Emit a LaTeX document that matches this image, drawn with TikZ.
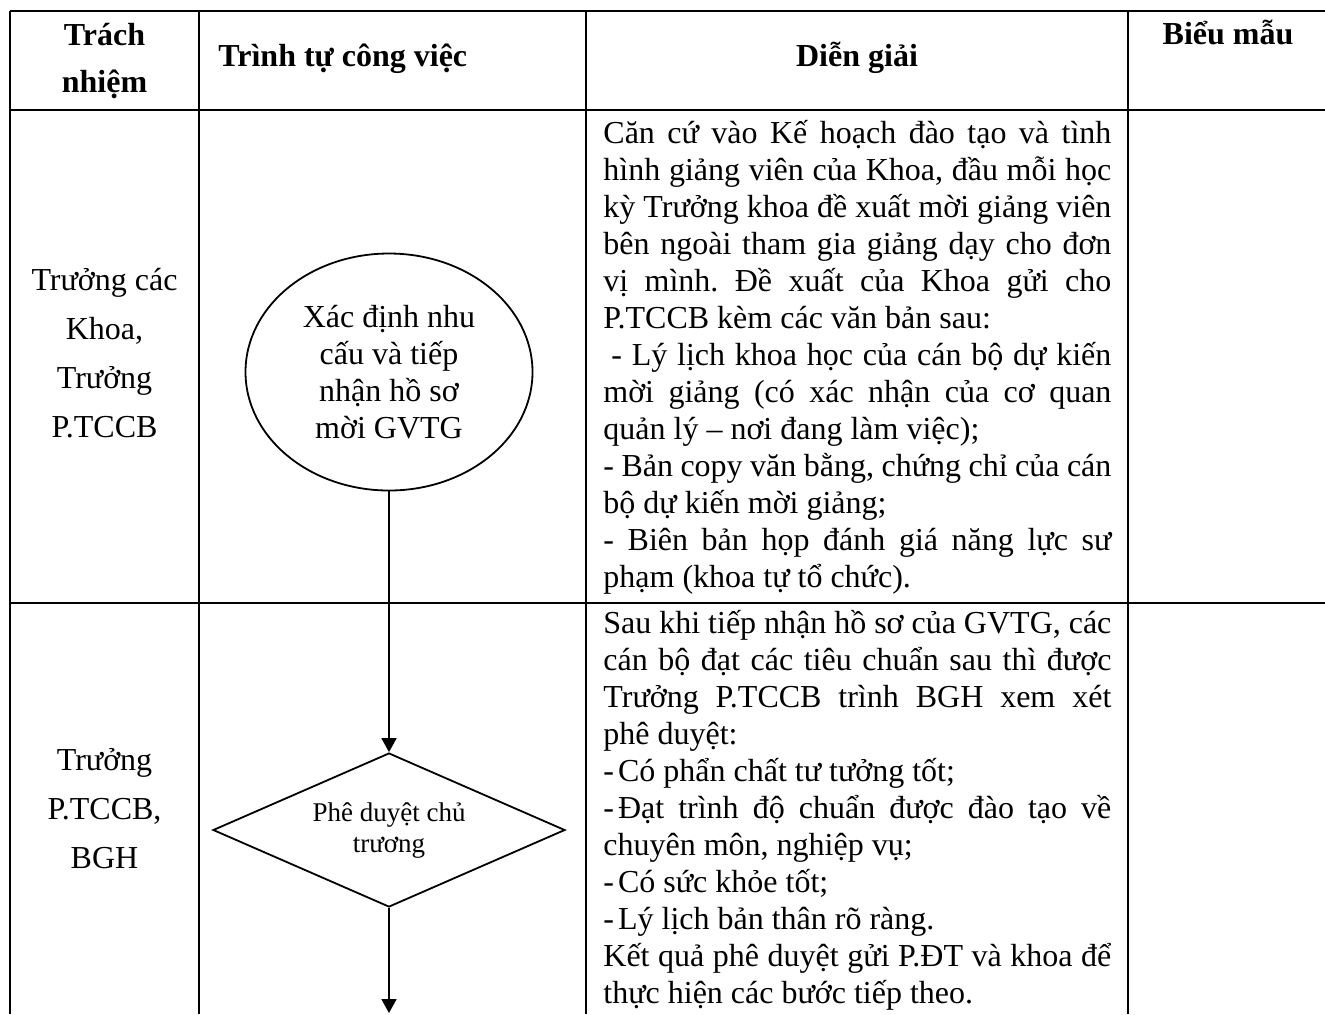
\documentclass[tikz,border=0pt]{standalone}
\usepackage{fontspec}
\setmainfont{Liberation Serif}
\usetikzlibrary{shapes.geometric,arrows.meta}
\frenchspacing
\newcommand{\jl}[1]{\makebox[254pt][s]{#1}}
\newcommand{\bodyfont}{\fontsize{16pt}{18.5pt}\selectfont}
\begin{document}
\begin{tikzpicture}[x=0.5pt,y=-0.5pt,
  rule/.style={line width=1.3pt},
  cell/.style={inner sep=0pt, anchor=base},
  cellw/.style={inner sep=0pt, anchor=base west},
  arr/.style={line width=0.9pt, -{Triangle[width=7.5pt,length=7pt]}},
  shapeline/.style={draw, line width=0.9pt}]
\useasboundingbox (0,0) rectangle (1325,1014);
\clip (0,0) rectangle (1325,1014);
% table rules
\draw[rule] (10,11) -- (1325,11);
\draw[rule] (10,110) -- (1325,110);
\draw[rule] (10,603) -- (1325,603);
\draw[rule] (10,11) -- (10,1014);
\draw[rule] (199,11) -- (199,1014);
\draw[rule] (586,11) -- (586,1014);
\draw[rule] (1128,11) -- (1128,1014);
% header
\node[cell] (h1) at (104.5,45) {\parbox[t]{90pt}{\centering\bfseries\fontsize{16pt}{23.5pt}\selectfont Trách\\nhiệm}};
\node[cellw] (h2) at (218,66) {\bfseries\fontsize{16pt}{18.5pt}\selectfont Trình tự công việc};
\node[cell] (h3) at (857,66) {\bfseries\fontsize{16pt}{18.5pt}\selectfont Diễn giải};
\node[cell] (h4) at (1228,44) {\bfseries\fontsize{16pt}{18.5pt}\selectfont Biểu mẫu};
% column 1
\node[cell] (r1) at (104.5,290) {\parbox[t]{90pt}{\centering\fontsize{16pt}{24.5pt}\selectfont Trưởng các\\Khoa,\\Trưởng\\P.TCCB}};
\node[cell] (r2) at (104.5,770) {\parbox[t]{90pt}{\centering\fontsize{16pt}{24.5pt}\selectfont Trưởng\\P.TCCB,\\BGH}};
% flow
\node[ellipse, shapeline, minimum width=143.5pt, minimum height=118.5pt, inner sep=0pt, align=center, font=\bodyfont] (e) at (389,372) {Xác định nhu\\cấu và tiếp\\nhận hồ sơ\\mời GVTG};
\node[diamond, aspect=2.3, shapeline, minimum width=176pt, minimum height=77pt, inner sep=0pt, align=center, font=\fontsize{13.5pt}{15.5pt}\selectfont] (dm) at (389,830) {Phê duyệt chủ\\trương};
\coordinate (end) at (389,1013);
\draw[arr] (e.south) -- (dm.north);
\draw[arr] (dm.south) -- (end);
% descriptions
\node[cellw] (d1) at (603,143) {\parbox[t]{254pt}{\bodyfont
\jl{Căn cứ vào Kế hoạch đào tạo và tình}\\
\jl{hình giảng viên của Khoa, đầu mỗi học}\\
\jl{kỳ Trưởng khoa đề xuất mời giảng viên}\\
\jl{bên ngoài tham gia giảng dạy cho đơn}\\
\jl{vị mình. Đề xuất của Khoa gửi cho}\\
P.TCCB kèm các văn bản sau:\\
\jl{\hspace*{4pt}- Lý lịch khoa học của cán bộ dự kiến}\\
\jl{mời giảng (có xác nhận của cơ quan}\\
quản lý – nơi đang làm việc);\\
\jl{- Bản copy văn bằng, chứng chỉ của cán}\\
bộ dự kiến mời giảng;\\
\jl{- Biên bản họp đánh giá năng lực sư}\\
phạm (khoa tự tổ chức).}};
\node[cellw] (d2) at (603,633) {\parbox[t]{254pt}{\bodyfont
\jl{Sau khi tiếp nhận hồ sơ của GVTG, các}\\
\jl{cán bộ đạt các tiêu chuẩn sau thì được}\\
\jl{Trưởng P.TCCB trình BGH xem xét}\\
phê duyệt:\\
-\kern2pt Có phẩn chất tư tưởng tốt;\\
\jl{-\kern2pt Đạt trình độ chuẩn được đào tạo về}\\
chuyên môn, nghiệp vụ;\\
-\kern2pt Có sức khỏe tốt;\\
-\kern2pt Lý lịch bản thân rõ ràng.\\
\jl{Kết quả phê duyệt gửi P.ĐT và khoa để}\\
thực hiện các bước tiếp theo.}};
\end{tikzpicture}
\end{document}
